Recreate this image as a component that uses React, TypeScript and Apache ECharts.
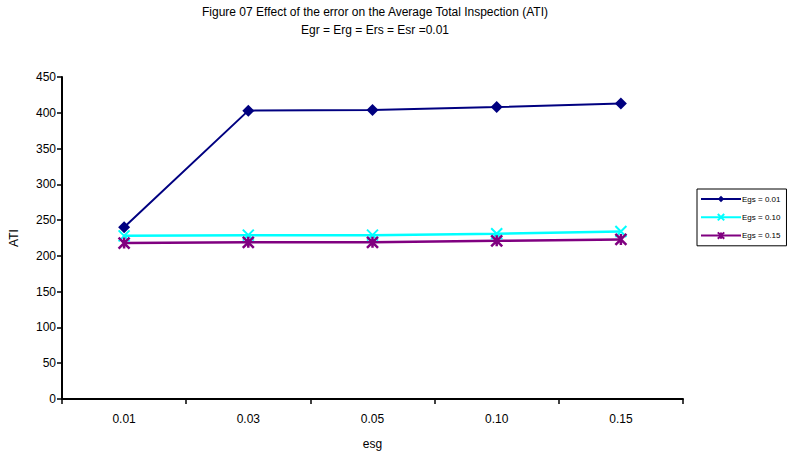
import React, { useEffect, useRef } from "react";
import * as echarts from "echarts";

const categories = ["0.01", "0.03", "0.05", "0.10", "0.15"];
const egs001 = [240, 403, 404, 408, 413];
const egs010 = [228, 229, 229, 231, 234];
const egs015 = [218, 219, 219, 221, 223];
const seriesNames = ["Egs = 0.01", "Egs = 0.10", "Egs = 0.15"];

const xSym = "path://M0,0 L10,10 M10,0 L0,10";
const starSym = "path://M0,0 L10,10 M10,0 L0,10 M5,0 L5,10";

export default function App() {
  const ref = useRef<HTMLDivElement>(null);
  useEffect(() => {
    const chart = echarts.init(ref.current!, null, { renderer: "svg" });
    const font = "Liberation Sans, Arial, sans-serif";
    chart.setOption({
      animation: false,
      backgroundColor: "#ffffff",
      textStyle: { fontFamily: font },
      title: {
        text: "Figure 07 Effect of the error on the Average Total Inspection (ATI)\nEgr = Erg = Ers = Esr =0.01",
        left: 375,
        textAlign: "center",
        top: 3,
        padding: 0,
        textStyle: { fontSize: 12, fontWeight: "normal", color: "#000", lineHeight: 18, fontFamily: font },
      },
      legend: {
        orient: "vertical",
        left: 697,
        top: 189,
        width: 90,
        padding: [6, 6, 6, 3],
        borderColor: "#000",
        borderWidth: 1,
        itemWidth: 40,
        itemHeight: 8,
        itemGap: 10,
        textStyle: { fontSize: 8, color: "#000", fontFamily: font, padding: [0, 0, 0, -4] },
        data: seriesNames,
      },
      grid: { left: 61, right: 105, top: 77, bottom: 54 },
      xAxis: {
        type: "category",
        data: categories,
        boundaryGap: true,
        name: "esg",
        nameLocation: "middle",
        nameGap: 39,
        nameTextStyle: { fontSize: 12, color: "#000" },
        axisLine: { lineStyle: { color: "#000", width: 2 } },
        axisTick: { show: true, length: 5, lineStyle: { color: "#000", width: 1.5 } },
        axisLabel: { fontSize: 12, color: "#000", margin: 14 },
      },
      yAxis: {
        type: "value",
        min: 0,
        max: 450,
        interval: 50,
        name: "ATI",
        nameLocation: "middle",
        nameGap: 42,
        nameTextStyle: { fontSize: 12, color: "#000" },
        axisLine: { show: true, lineStyle: { color: "#000", width: 2 } },
        axisTick: { show: true, length: 5, lineStyle: { color: "#000", width: 1.5 } },
        axisLabel: { fontSize: 12, color: "#000", margin: 6 },
        splitLine: { show: false },
      },
      series: [
        {
          name: seriesNames[0],
          type: "line",
          data: egs001,
          symbol: "diamond",
          symbolSize: 12,
          lineStyle: { color: "#000080", width: 2 },
          itemStyle: { color: "#000080" },
        },
        {
          name: seriesNames[1],
          type: "line",
          data: egs010,
          symbol: xSym,
          symbolSize: 11,
          lineStyle: { color: "#00FFFF", width: 2.5 },
          itemStyle: { color: "#00FFFF", borderColor: "#00FFFF", borderWidth: 2 },
        },
        {
          name: seriesNames[2],
          type: "line",
          data: egs015,
          symbol: starSym,
          symbolSize: 11,
          lineStyle: { color: "#800080", width: 2.5 },
          itemStyle: { color: "#800080", borderColor: "#800080", borderWidth: 2.5 },
        },
      ],
    });
    return () => chart.dispose();
  }, []);
  return <div ref={ref} style={{ position: "fixed", left: 0, top: 0, width: 788, height: 455 }} />;
}
